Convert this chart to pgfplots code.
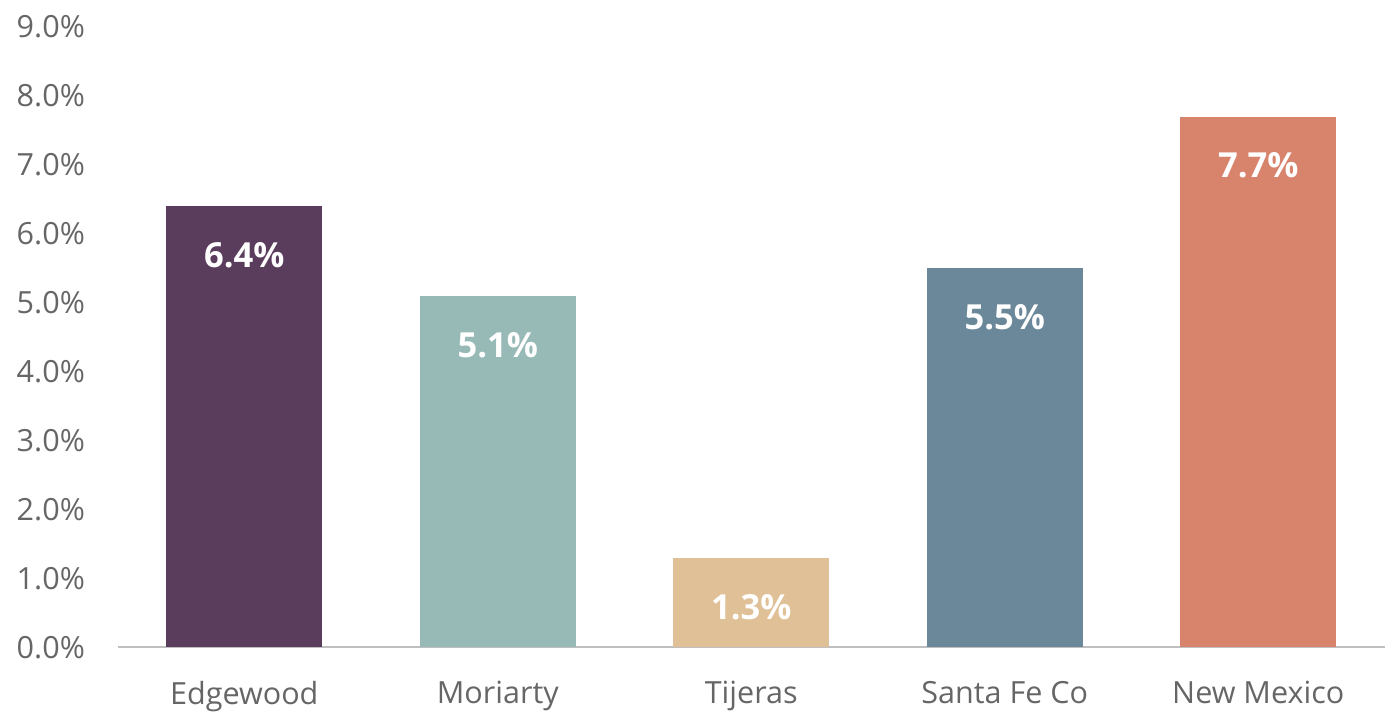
\documentclass[border=0pt]{standalone}
\usepackage{pgfplots}
\pgfplotsset{compat=1.18}
\usepackage{fontspec}
\setmainfont{Open Sans}

\definecolor{cEdge}{HTML}{5A3D5C}
\definecolor{cMori}{HTML}{98BAB7}
\definecolor{cTije}{HTML}{E0C097}
\definecolor{cSanta}{HTML}{6A8899}
\definecolor{cNM}{HTML}{D8836C}
\definecolor{txtgray}{HTML}{666666}
\definecolor{axgray}{HTML}{BFBFBF}

\begin{document}
\begin{tikzpicture}
\begin{axis}[
    scale only axis,
    width=954.4pt, height=467.25pt,
    xmin=-0.5, xmax=4.5,
    ymin=0, ymax=9,
    ytick={0,1,...,9},
    xtick={0,1,2,3,4},
    xticklabels={Edgewood, Moriarty, Tijeras, Santa Fe Co, New Mexico},
    /pgf/number format/assume math mode=true,
    yticklabel={\pgfmathprintnumber[fixed,fixed zerofill,precision=1]{\tick}\%},
    axis x line*=bottom,
    axis y line*=left,
    x axis line style={draw=axgray, line width=1.5pt, -},
    y axis line style={draw=none},
    major tick length=0pt,
    tick label style={font=\fontsize{23}{27}\selectfont, text=txtgray},
    yticklabel style={xshift=-21pt},
    xticklabel style={yshift=-22pt},
    ybar, bar width=117.75pt, bar shift=0pt,
    clip=false,
    nodes near coords={\pgfmathprintnumber[fixed,fixed zerofill,precision=1]{\pgfplotspointmeta}\%},
    every node near coord/.append style={font=\bfseries\fontsize{26}{30}\selectfont, text=white, anchor=center, yshift=-37pt},
]
\addplot[draw=none, fill=cEdge] coordinates {(0,6.4)};
\addplot[draw=none, fill=cMori] coordinates {(1,5.1)};
\addplot[draw=none, fill=cTije] coordinates {(2,1.3)};
\addplot[draw=none, fill=cSanta] coordinates {(3,5.5)};
\addplot[draw=none, fill=cNM] coordinates {(4,7.7)};
\path ([shift={(-88.5pt,-47.25pt)}]rel axis cs:0,0) rectangle ([shift={(-3pt,20.25pt)}]rel axis cs:1,1);
\end{axis}
\end{tikzpicture}
\end{document}
